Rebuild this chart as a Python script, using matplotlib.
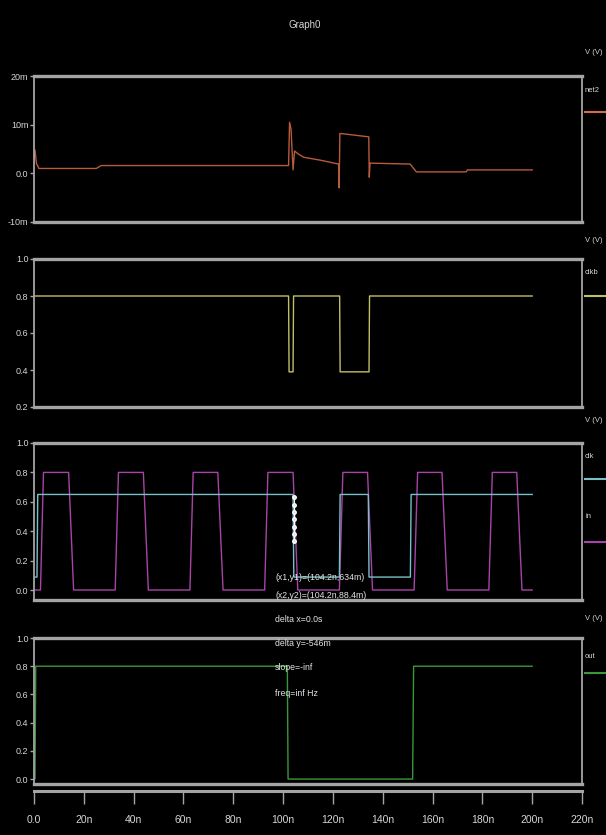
import matplotlib
matplotlib.use("Agg")
import matplotlib.pyplot as plt
from matplotlib.lines import Line2D

# ---------------- data (time in ns) ----------------
x_ticks = [0, 20, 40, 60, 80, 100, 120, 140, 160, 180, 200, 220]
x_tick_labels = ["0.0", "20n", "40n", "60n", "80n", "100n", "120n", "140n",
                 "160n", "180n", "200n", "220n"]

# panel 1 : net2 (values in mA)
t_net2 = [0.0, 0.4, 1.0, 2.0, 25.0, 27.0, 102.2, 102.6, 103.2, 104.0, 104.6,
          106.0, 108.3, 115.0, 122.3, 122.5, 122.8, 134.4, 134.6, 134.9,
          151.0, 153.5, 173.5, 174.0, 200.0]
v_net2 = [3.0, 4.8, 2.0, 1.0, 1.0, 1.6, 1.6, 10.5, 9.0, 0.7, 4.6,
          4.0, 3.3, 2.7, 1.9, -3.0, 8.2, 7.5, -0.8, 2.1,
          1.9, 0.3, 0.3, 0.7, 0.7]
p1_ticks = [-10, 0, 10, 20]
p1_labels = ["-10m", "0.0", "10m", "20m"]

# panel 2 : clkbar
t_clkbar = [0.0, 102.2, 102.4, 104.0, 104.2, 122.7, 122.9, 134.5, 134.7, 200.0]
v_clkbar = [0.8, 0.8, 0.39, 0.39, 0.8, 0.8, 0.39, 0.39, 0.8, 0.8]
p2_ticks = [0.2, 0.4, 0.6, 0.8, 1.0]

# panel 3 : clk (cyan) and in (magenta)
t_clk = [0.0, 1.2, 1.5, 104.0, 104.3, 122.6, 122.9, 134.2, 134.5, 151.1, 151.4, 200.0]
v_clk = [0.088, 0.088, 0.65, 0.65, 0.088, 0.088, 0.65, 0.65, 0.088, 0.088, 0.65, 0.65]
t_in = [0.0, 2.6, 3.8, 13.9, 15.9, 32.6, 33.9, 43.9, 45.9, 62.6, 63.9, 73.8,
        75.9, 92.6, 93.9, 104.0, 105.9, 122.6, 124.0, 133.9, 135.9, 152.6,
        154.0, 163.8, 165.9, 182.6, 184.0, 193.8, 195.9, 200.0]
v_in = [0.0, 0.0, 0.8, 0.8, 0.0, 0.0, 0.8, 0.8, 0.0, 0.0, 0.8, 0.8,
        0.0, 0.0, 0.8, 0.8, 0.0, 0.0, 0.8, 0.8, 0.0, 0.0,
        0.8, 0.8, 0.0, 0.0, 0.8, 0.8, 0.0, 0.0]
p3_ticks = [0.0, 0.2, 0.4, 0.6, 0.8, 1.0]
cursor_t = 104.2
cursor_v = [0.63, 0.58, 0.53, 0.48, 0.43, 0.38, 0.33]

# panel 4 : out
t_out = [0.0, 0.4, 0.7, 101.7, 102.0, 152.0, 152.4, 200.0]
v_out = [0.0, 0.0, 0.8, 0.8, 0.0, 0.0, 0.8, 0.8]
p4_ticks = [0.0, 0.2, 0.4, 0.6, 0.8, 1.0]

marker_text = ["(x1,y1)=(104.2n,634m)", "(x2,y2)=(104.2n,88.4m)",
               "delta x=0.0s", "delta y=-546m", "slope=-inf", "freq=inf Hz"]

# ---------------- styling ----------------
W, H = 606, 835
BG = "black"
FRAME = "#a4a4a4"
TXT = "#d6d6d6"
FONT = ["Liberation Sans", "DejaVu Sans"]
plt.rcParams["font.family"] = FONT

fig = plt.figure(figsize=(W / 100, H / 100), dpi=100, facecolor=BG)

def fx(px):
    return px / W

def fy(py):
    return 1 - py / H

L, R = 34, 582

def panel(top, bot, ylim, ticks, labels=None):
    ax = fig.add_axes([fx(L), fy(bot), (R - L) / W, (bot - top) / H])
    ax.set_facecolor(BG)
    ax.set_xlim(0, 220)
    ax.set_ylim(*ylim)
    for s in ["top", "bottom"]:
        ax.spines[s].set_color(FRAME)
        ax.spines[s].set_linewidth(2.4)
    for s in ["left", "right"]:
        ax.spines[s].set_color(FRAME)
        ax.spines[s].set_linewidth(1.3)
    ax.set_xticks([])
    ax.set_yticks(ticks)
    if labels is None:
        labels = ["%.1f" % t for t in ticks]
    ax.set_yticklabels(labels)
    ax.tick_params(axis="y", length=3, width=1, color=FRAME, labelcolor=TXT,
                   labelsize=6.5, pad=1)
    return ax

ax1 = panel(76, 222, (-10, 20), p1_ticks, p1_labels)
ax1.plot(t_net2, v_net2, color="#b85a3c", lw=1.0)

ax2 = panel(259, 407, (0.2, 1.0), p2_ticks)
ax2.plot(t_clkbar, v_clkbar, color="#c0c068", lw=1.0)

ax3 = panel(443, 600, (-0.068, 1.0), p3_ticks)
ax3.plot(t_in, v_in, color="#a844a8", lw=1.0)
ax3.plot(t_clk, v_clk, color="#78c0c8", lw=1.0)
ax3.plot([cursor_t] * len(cursor_v), cursor_v, color="white", lw=0.8,
         marker="o", ms=2.5, mfc="#dddddd", mec="white")

ax4 = panel(638, 784, (-0.035, 1.0), p4_ticks)
ax4.plot(t_out, v_out, color="#3a983a", lw=1.0)

# x axis strip
axx = fig.add_axes([fx(L), fy(791), (R - L) / W, 0.0005])
axx.set_facecolor(BG)
axx.patch.set_alpha(0)
for s in ["top", "left", "right"]:
    axx.spines[s].set_visible(False)
axx.spines["bottom"].set_color(FRAME)
axx.spines["bottom"].set_linewidth(2.2)
axx.set_xlim(0, 220)
axx.set_yticks([])
axx.set_xticks(x_ticks)
axx.set_xticklabels(x_tick_labels)
axx.tick_params(axis="x", direction="out", length=9, width=1, color=FRAME,
                labelcolor=TXT, labelsize=7.5, pad=8)

# title
fig.text(fx(305), fy(25), "Graph0", color=TXT, fontsize=7, ha="center", va="center")

# right side legends
legend_items = [
    (53, [(90, 112, "net2", "#d0703e")]),
    (240, [(273, 296, "clkb", "#c0c068")]),
    (420, [(457, 479, "clk", "#78c0c8"), (517, 542, "in", "#a844a8")]),
    (618, [(657, 673, "out", "#3a983a")]),
]
for unit_y, items in legend_items:
    fig.text(fx(585), fy(unit_y), "V (V)", color=TXT, fontsize=5.5,
             ha="left", va="center")
    for name_y, line_y, name, col in items:
        fig.text(fx(585), fy(name_y), name, color=TXT, fontsize=5.5,
                 ha="left", va="center")
        fig.add_artist(Line2D([fx(585), fx(606)], [fy(line_y), fy(line_y)],
                              color=col, lw=1.5, transform=fig.transFigure))

# marker annotation
ann_y = [577, 596, 620, 643, 668, 693]
for yy, s in zip(ann_y, marker_text):
    fig.text(fx(275), fy(yy), s, color="#e4e4e4", fontsize=6.3,
             ha="left", va="center")

fig.savefig("out.png", dpi=100, facecolor=BG)
